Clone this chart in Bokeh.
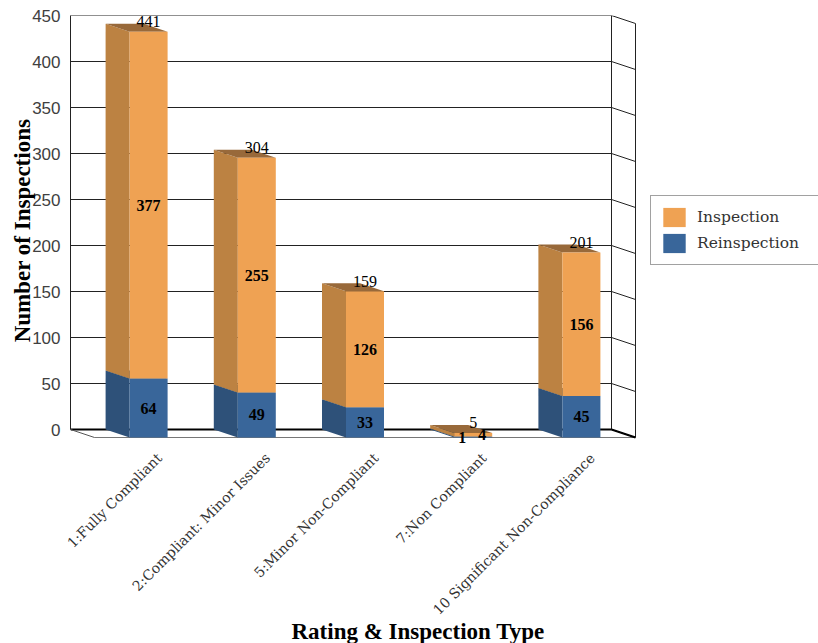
from bokeh.core.properties import value
from bokeh.embed import file_html
from bokeh.models import FixedTicker, Legend, LegendItem, Range1d, Title
from bokeh.plotting import figure
from bokeh.resources import INLINE
import numpy as np

categories = ["1:Fully Compliant", "2:Compliant: Minor Issues", "5:Minor Non-Compliant",
              "7:Non Compliant", "10 Significant Non-Compliance"]
reinspection = [64, 49, 33, 1, 45]
inspection = [377, 255, 126, 4, 156]
totals = [441, 304, 159, 5, 201]
y_ticks = [0, 50, 100, 150, 200, 250, 300, 350, 400, 450]

SERIF = "DejaVu Serif"
ORANGE, ORANGE_SIDE, ORANGE_TOP = "#EFA253", "#BC8242", "#98693A"
BLUE, BLUE_SIDE, BLUE_TOP = "#39669A", "#2E5179", "#26435F"

# Oblique projection: the back wall sits up and to the left of the front plane.
SLOT_PX = 108.2
UNIT_PX = 0.92
DX = 24 / SLOT_PX
DY = 8 / UNIT_PX
BAR_W = 38 / SLOT_PX
slots = np.arange(len(categories)) + 0.5
left = slots - BAR_W / 2
right = slots + BAR_W / 2
low = np.array(reinspection, float)
total = low + np.array(inspection, float)

# The frame runs on past the box on the right to hold the legend, and a little
# below it so that the labels of very short bars are not clipped.
p = figure(width=818, height=643, output_backend="svg", toolbar_location=None,
           x_range=Range1d(-DX, 5 + 183 / SLOT_PX), y_range=Range1d(-16 / UNIT_PX, 450),
           min_border_left=70, min_border_right=0, min_border_top=15, min_border_bottom=198,
           outline_line_color=None)
p.grid.visible = False

# Walls of the chart box, drawn from the tick values.
ticks = np.array(y_ticks, float)
wall_color = "#222222"
p.segment(np.full_like(ticks, -DX), ticks, np.full_like(ticks, 5 - DX), ticks,
          line_color=wall_color, line_width=1)
p.segment(np.full_like(ticks, 5 - DX), ticks, np.full_like(ticks, 5.0), ticks - DY,
          line_color=wall_color, line_width=1)
p.segment([5 - DX, 5], [0, -DY], [5 - DX, 5], [450, 450 - DY], line_color=wall_color, line_width=1)
p.segment([0], [-DY], [5], [-DY], line_color="#777777", line_width=1)
p.segment([-DX], [0], [5 - DX], [0], line_color="#000000", line_width=2)
p.segment([-DX], [0], [0], [-DY], line_color="#555555", line_width=1)
p.segment([5 - DX], [0], [5], [-DY], line_color="#000000", line_width=2)


def faces(lo, hi, side, top, front):
    xs_side = [[l - DX, l, l, l - DX] for l in left]
    ys_side = [[b, b - DY, t - DY, t] for b, t in zip(lo, hi)]
    p.patches(xs_side, ys_side, fill_color=side, line_color=None)
    xs_top = [[l - DX, l, r, r - DX] for l, r in zip(left, right)]
    ys_top = [[t, t - DY, t - DY, t] for t in hi]
    p.patches(xs_top, ys_top, fill_color=top, line_color=None)
    return p.vbar(x=slots, width=BAR_W, bottom=lo - DY, top=hi - DY, fill_color=front, line_color=None)


blue_bars = faces(np.zeros_like(low), low, BLUE_SIDE, BLUE_TOP, BLUE)
orange_bars = faces(low, total, ORANGE_SIDE, ORANGE_TOP, ORANGE)

# Value labels: segment values on the front faces, totals at the back of each top.
label_style = dict(text_font=value("Liberation Serif"), text_font_size="16px", text_color="#000000",
                   text_align="center", text_baseline="middle")
seg_style = dict(label_style, text_font_style="bold")
thin = total < 10
p.text(slots, low / 2 - DY, text=[str(v) for v in reinspection],
       x_offset=np.where(thin, -11, 0).tolist(), **seg_style)
p.text(slots, (low + total) / 2 - DY, text=[str(v) for v in inspection],
       x_offset=np.where(thin, 9, 0).tolist(), **seg_style)
p.text(slots, total, text=[str(v) for v in totals], y_offset=-2, **label_style)

# Axes
yaxis = p.yaxis[0]
yaxis.ticker = FixedTicker(ticks=y_ticks)
yaxis.bounds = (0, 450)
yaxis.axis_line_color = "#222222"
yaxis.major_tick_line_color = None
yaxis.minor_tick_line_color = None
yaxis.major_tick_out = 0
yaxis.major_tick_in = 0
yaxis.major_label_standoff = 10
yaxis.major_label_text_font = "Liberation Sans"
yaxis.major_label_text_font_size = "17px"
yaxis.major_label_text_color = "#404040"
yaxis.axis_label = "Number of Inspections"
yaxis.axis_label_text_font = "Liberation Serif"
yaxis.axis_label_text_font_style = "bold"
yaxis.axis_label_text_font_size = "23px"
yaxis.axis_label_text_color = "#000000"
yaxis.axis_label_standoff = -6

# Rotated labels hang from their right end, so the ticks sit right of the bar centres.
LABEL_SHIFT = 0.1
label_ticks = slots + LABEL_SHIFT
xaxis = p.xaxis[0]
xaxis.ticker = FixedTicker(ticks=label_ticks.tolist())
xaxis.major_label_overrides = {float(s): c for s, c in zip(label_ticks, categories)}
xaxis.major_label_orientation = np.pi / 4
xaxis.axis_line_color = None
xaxis.major_tick_line_color = None
xaxis.minor_tick_line_color = None
xaxis.major_tick_out = 0
xaxis.major_tick_in = 0
xaxis.major_label_standoff = 10
xaxis.major_label_text_font = SERIF
xaxis.major_label_text_font_size = "14px"
xaxis.major_label_text_color = "#333333"

x_title = Title(text="Rating & Inspection Type", align="left", offset=221, standoff=-16,
                vertical_align="top",
                text_font="Liberation Serif", text_font_style="bold", text_font_size="23px",
                text_color="#000000")
p.add_layout(x_title, "below")

legend = Legend(items=[LegendItem(label="Inspection", renderers=[orange_bars]),
                       LegendItem(label="Reinspection", renderers=[blue_bars])],
                location=(580, 180), orientation="vertical",
                glyph_width=28, glyph_height=24, spacing=2, padding=9, margin=0,
                label_text_font=SERIF, label_text_font_size="15.5px", label_text_color="#333333",
                label_standoff=9, label_width=130, border_line_color="#444444",
                background_fill_color="#FFFFFF")
p.add_layout(legend, "center")

open("out.html", "w").write(file_html(p, INLINE))
